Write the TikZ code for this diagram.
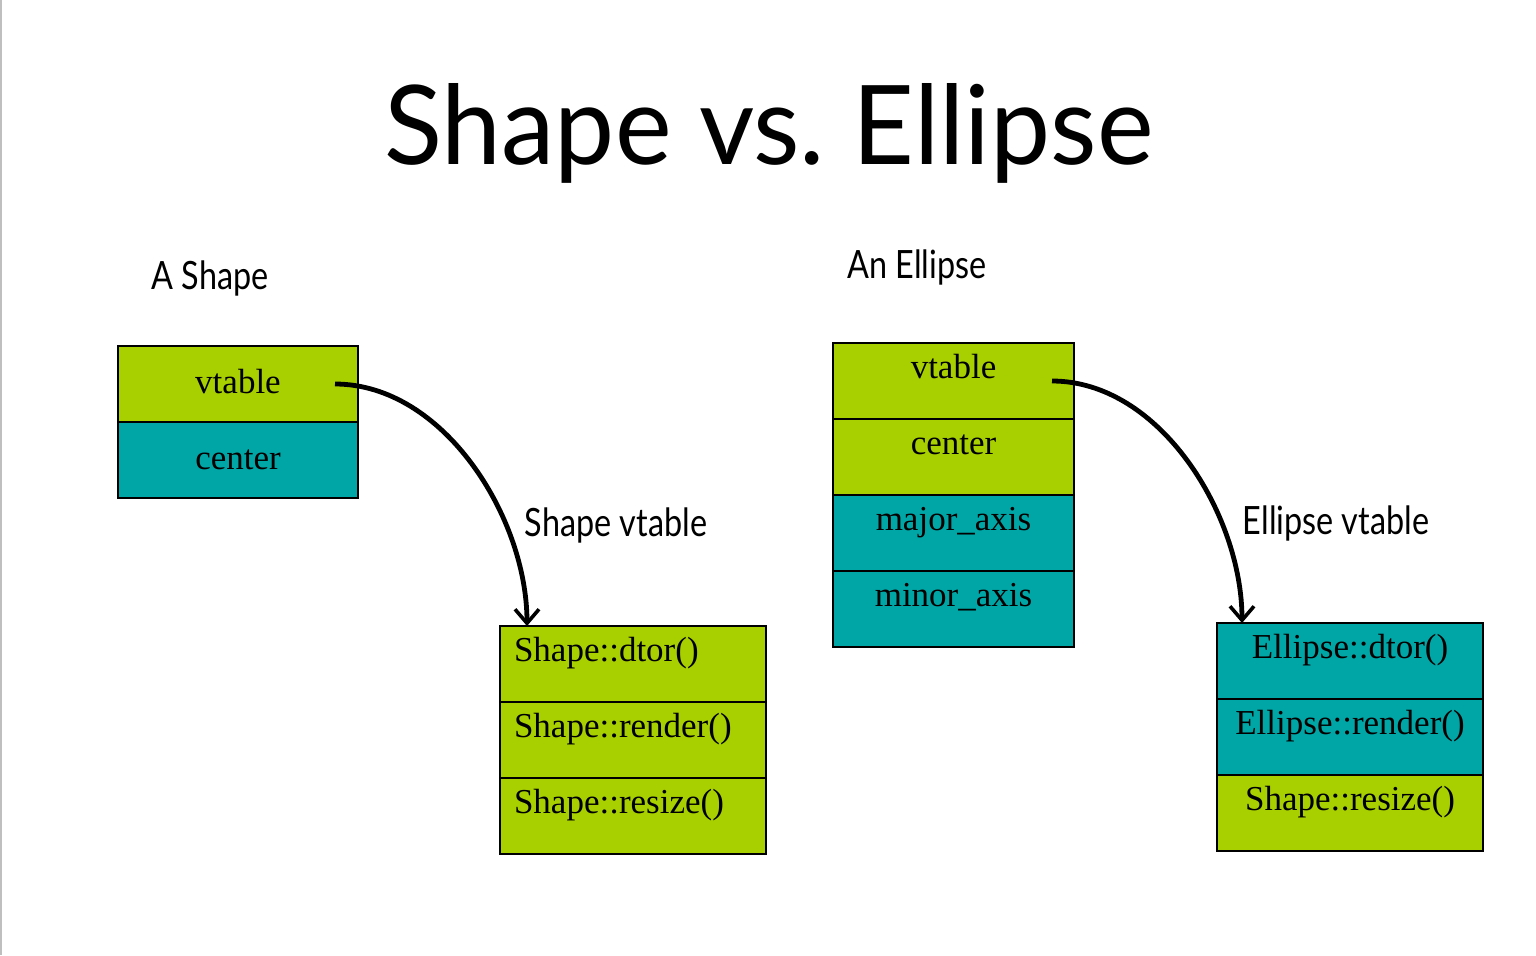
\documentclass[tikz,border=0pt]{standalone}
\usepackage{fontspec}
\setmainfont{Liberation Serif}
\newfontfamily\gillfont[FakeStretch=0.975]{Lato}
\newfontfamily\gillnarrow[FakeStretch=0.83]{Lato}
\usetikzlibrary{arrows.meta}
\definecolor{slotgreen}{RGB}{168,208,0}
\definecolor{slotteal}{RGB}{0,166,166}

\begin{document}
\begin{tikzpicture}[x=0.5pt, y=-0.5pt]
    \tikzstyle{slot}=[draw=black, line width=1pt, anchor=north west, inner sep=0pt, outer sep=0pt, minimum height=38pt, font=\fontsize{17.5}{20}\selectfont]
    \tikzstyle{toptext}=[text height=13pt, text depth=16pt]
    \tikzstyle{caption}=[font=\gillnarrow\fontsize{19.5}{22}\selectfont]
    \tikzstyle{pointer}=[line width=2.4pt, -{Straight Barb[length=7pt, width=12pt, line width=1.8pt]}]

    \useasboundingbox (0,0) rectangle (1536,955);
    \draw[gray!50, line width=1pt] (1,0) -- (1,955);

    % Title
    \node[font=\gillfont\fontsize{55}{60}\selectfont] (title) at (769,133) {Shape vs.\ Ellipse};

    % A Shape
    \foreach \y/\name/\txt/\col in {346/s1/vtable/slotgreen, 422/s2/center/slotteal} {
        \node[slot, fill=\col, minimum width=120pt, text height=12pt, text depth=3pt] (\name) at (118,\y) {\txt};
    }
    \node[caption] (ashape) at (210,278) {A Shape};

    % Shape vtable
    \foreach \y/\name/\txt in {626/sv1/Shape::dtor(), 702/sv2/Shape::render(), 778/sv3/Shape::resize()} {
        \node[slot, toptext, fill=slotgreen, text width=119pt, align=left, inner xsep=7pt] (\name) at (500,\y) {\txt};
    }
    \node[caption] (svlabel) at (616,525) {Shape vtable};

    % An Ellipse
    \foreach \y/\name/\txt/\col in {343/e1/vtable/slotgreen, 419/e2/center/slotgreen, 495/e3/major\_axis/slotteal, 571/e4/minor\_axis/slotteal} {
        \node[slot, toptext, fill=\col, minimum width=120.5pt] (\name) at (833,\y) {\txt};
    }
    \node[caption] (anellipse) at (917,267) {An Ellipse};

    % Ellipse vtable
    \foreach \y/\name/\txt/\col in {623/ev1/Ellipse::dtor()/slotteal, 699/ev2/Ellipse::render()/slotteal, 775/ev3/Shape::resize()/slotgreen} {
        \node[slot, toptext, fill=\col, minimum width=133pt] (\name) at (1217,\y) {\txt};
    }
    \node[caption] (evlabel) at (1336,523) {Ellipse vtable};

    % vtable pointers
    \draw[pointer] ([xshift=-11.5pt]s1.east) to[out=0, in=90, looseness=0.9] ([xshift=13.5pt]sv1.north west);
    \draw[pointer] ([xshift=-11pt]e1.east) to[out=0, in=90, looseness=0.9] ([xshift=12.5pt]ev1.north west);
\end{tikzpicture}
\end{document}
